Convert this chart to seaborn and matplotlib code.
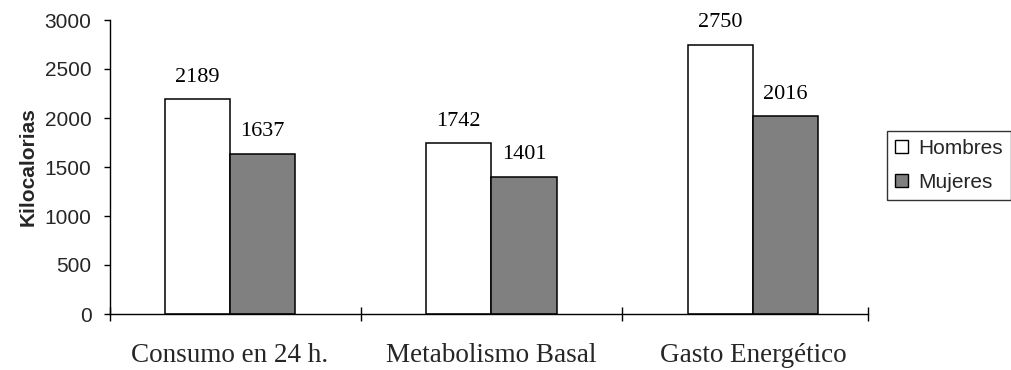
import matplotlib
matplotlib.use("Agg")
import matplotlib.pyplot as plt
from matplotlib.patches import Patch
import pandas as pd
import seaborn as sns

# Data
categorias = ["Consumo en 24 h.", "Metabolismo Basal", "Gasto Energético"]
hombres = [2189, 1742, 2750]
mujeres = [1637, 1401, 2016]
series = ["Hombres", "Mujeres"]
yticks = [0, 500, 1000, 1500, 2000, 2500, 3000]

df = pd.DataFrame({
    "categoria": categorias * 2,
    "kcal": hombres + mujeres,
    "sexo": [series[0]] * len(categorias) + [series[1]] * len(categorias),
})

sns.set_style("ticks")
plt.rcParams["font.family"] = ["Liberation Sans", "DejaVu Sans"]

colores = {"Hombres": "#ffffff", "Mujeres": "#808080"}

fig = plt.figure(figsize=(10.12, 3.70), dpi=100)
ax = fig.add_axes([110 / 1012, 1 - 314 / 370, 758 / 1012, 294 / 370])

sns.barplot(
    data=df, x="categoria", y="kcal", hue="sexo", order=categorias,
    hue_order=series, palette=colores, edgecolor="black", linewidth=1.1,
    width=0.5, gap=0, saturation=1, ax=ax, legend=False, errorbar=None,
)

# Value labels above each bar
for cont in ax.containers:
    ax.bar_label(cont, fmt="%d", padding=9, fontsize=16,
                 family=["Liberation Serif", "DejaVu Serif"], color="black")

ax.set_ylim(0, 3000)
ax.set_yticks(yticks)
ax.set_yticklabels([str(v) for v in yticks])
x0, x1 = -0.459, 2.44
ax.set_xlim(x0, x1)

# Category labels centred under the bar pairs, boundary tick marks crossing the axis
ax.tick_params(axis="x", which="major", length=0, pad=21)
for lab in ax.get_xticklabels():
    lab.set_fontfamily(["Liberation Serif", "DejaVu Serif"])
    lab.set_fontsize(19.5)
ax.set_xticks([x0, 0.5, 1.5, x1], minor=True)
ax.tick_params(axis="x", which="minor", direction="inout", length=10,
               width=1.0, color="black")
ax.tick_params(axis="y", which="major", direction="out", length=4,
               width=1.0, pad=9.4, labelsize=15, color="black")

ax.set_xlabel("")
ax.set_ylabel("Kilocalorias", fontsize=15, fontweight="bold", labelpad=5)

for side in ["top", "right"]:
    ax.spines[side].set_visible(False)
for side in ["left", "bottom"]:
    ax.spines[side].set_color("black")
    ax.spines[side].set_linewidth(1.0)

handles = [Patch(facecolor=colores[s], edgecolor="black", linewidth=1.0) for s in series]
leg = fig.legend(
    handles, series, loc="upper left", bbox_to_anchor=(887 / 1012, 1 - 131 / 370),
    bbox_transform=fig.transFigure, fontsize=15, frameon=True, fancybox=False,
    shadow=False, borderpad=0.38, handlelength=0.62, handleheight=0.62,
    handletextpad=0.52, labelspacing=0.72, borderaxespad=0,
)
leg.get_frame().set_edgecolor("black")
leg.get_frame().set_linewidth(1.0)

fig.savefig("out.png", dpi=100, facecolor="white")
